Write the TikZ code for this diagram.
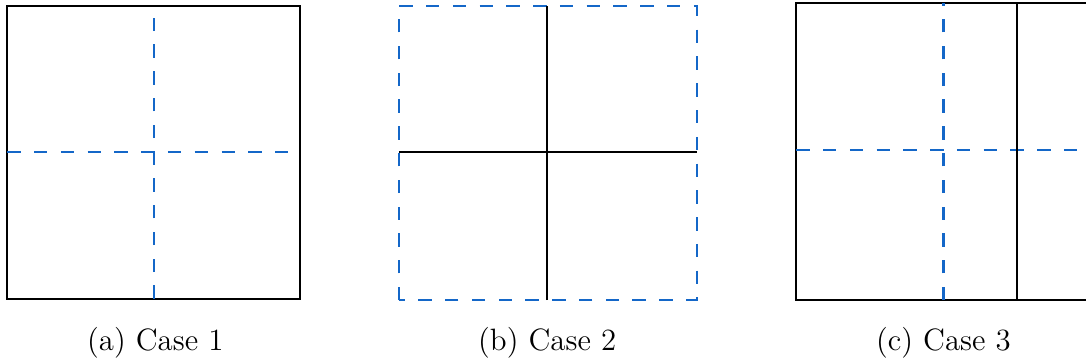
\documentclass[tikz,border=0pt]{standalone}
\usetikzlibrary{positioning}
\definecolor{cut-blue}{HTML}{1467C8}
\definecolor{ink}{HTML}{000000}

\begin{document}
\begin{tikzpicture}[
    font=\large,
    solidline/.style={draw=ink, line width=0.8pt},
    cutline/.style={draw=cut-blue, line width=0.8pt, dash pattern=on 5.2pt off 5.2pt},
    caption/.style={anchor=base, inner sep=0pt},
]
\useasboundingbox (0, 0) rectangle (14.826, 4.969);

% =====================================================================
% CASE 1 — solid square, dashed cross
% =====================================================================

\draw[solidline] (0.10, 0.89) rectangle (4.10, 4.89);
\draw[cutline] (2.10, 0.89) -- (2.10, 4.89);
\draw[cutline] (0.10, 2.89) -- (4.10, 2.89);
\node[caption] (capA) at (2.12, 0.18) {(a) Case 1};

% =====================================================================
% CASE 2 — dashed square, solid cross
% =====================================================================

\draw[cutline] (5.45, 0.87) rectangle (9.51, 4.89);
\draw[solidline] (7.47, 0.87) -- (7.47, 4.89);
\draw[solidline] (5.45, 2.89) -- (9.51, 2.89);
\node[caption] (capB) at (7.47, 0.18) {(b) Case 2};

% =====================================================================
% CASE 3 — solid square, dashed cross, extra solid split
% =====================================================================

\draw[solidline] (10.87, 0.87) rectangle (14.93, 4.93);
\draw[cutline] (12.88, 0.87) -- (12.88, 4.93);
\draw[cutline] (10.87, 2.92) -- (14.93, 2.92);
\draw[solidline] (13.88, 0.87) -- (13.88, 4.93);
\node[caption] (capC) at (12.88, 0.18) {(c) Case 3};

\end{tikzpicture}
\end{document}
